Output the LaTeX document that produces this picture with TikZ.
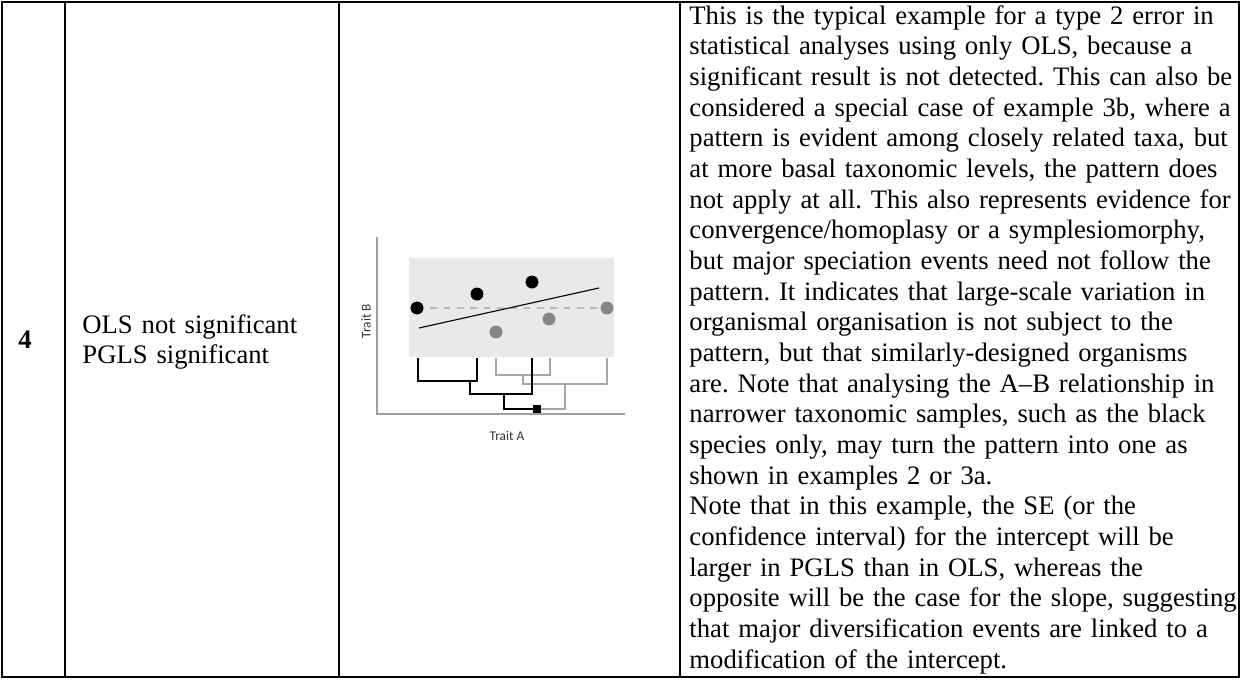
\documentclass[tikz,border=0pt]{standalone}
\usepackage{fontspec}
\setmainfont{Liberation Serif}
\newfontfamily\plotfont{Carlito}
\frenchspacing

\begin{document}
\begin{tikzpicture}[x=0.45pt, y=-0.45pt,
    rule/.style={line width=0.6pt},
    celltext/.style={font=\fontsize{12}{13.8}\selectfont, inner sep=0pt, align=left},
    axislabel/.style={font=\plotfont\fontsize{6}{7}\selectfont, text=black!80, inner sep=0pt},
    blackdot/.style={fill=black},
    graydot/.style={fill=gray!95},
    blackbranch/.style={line width=1pt, black},
    graybranch/.style={line width=1pt, gray!70}]
  \useasboundingbox (0,0) rectangle (1243,679);
  % Tabela
  \draw[rule] (2,2) rectangle (1239,677);
  \foreach \xc in {65,339,680}
    \draw[rule] (\xc,2) -- (\xc,677);
  % Primeira coluna
  \node[celltext, font=\fontsize{12}{13.8}\selectfont\bfseries, anchor=base west] (num) at (18,348) {4};
  \node[celltext, text width=120pt, anchor=base west] (name) at (82,333) {OLS not significant\\PGLS significant};
  % Eixos
  \coordinate (ytop) at (377,237);
  \coordinate (orig) at (377,414);
  \coordinate (xend) at (625,414);
  \draw[gray!75, line width=0.6pt] (ytop) -- (orig) -- (xend);
  \node[axislabel, rotate=90] (traitb) at (366,321) {Trait B};
  \node[axislabel] (traita) at (507,436) {Trait A};
  % Faixa cinza
  \fill[gray!17] (409,258) rectangle (614,357);
  \draw[gray!55, dashed, line width=0.6pt] (417,308) -- (607,308);
  % Reta OLS
  \draw[line width=0.5pt] (419,328) -- (599,288);
  % Pontos
  \fill[blackdot] (417,308) circle[radius=2.9pt];
  \fill[blackdot] (477,294) circle[radius=2.9pt];
  \fill[blackdot] (532,282) circle[radius=2.9pt];
  \fill[graydot] (496,332) circle[radius=2.9pt];
  \fill[graydot] (549,319) circle[radius=2.9pt];
  \fill[graydot] (607,308) circle[radius=2.9pt];
  % Arvore: pontas
  \coordinate (b1) at (418,358);
  \coordinate (b2) at (477,358);
  \coordinate (b3) at (532,358);
  \coordinate (g1) at (496,358);
  \coordinate (g2) at (550,358);
  \coordinate (g3) at (607,358);
  \coordinate (root) at (537,409);
  % Ramos cinza
  \draw[graybranch] (g1) -- (496,375) -- (550,375) -- (g2);
  \draw[graybranch] (523,375) -- (523,384) -- (607,384) -- (g3);
  \draw[graybranch] (565,384) -- (565,409) -- (root);
  % Ramos pretos
  \draw[blackbranch] (b1) -- (418,381) -- (477,381) -- (b2);
  \draw[blackbranch] (470,381) -- (470,394) -- (532,394) -- (b3);
  \draw[blackbranch] (504,394) -- (504,409) -- (root);
  \node[fill=black, minimum size=3.2pt, inner sep=0pt] (rootbox) at (root) {};
  % Texto
  \node[celltext, text width=252pt, anchor=base west] (desc) at (689,24) {This is the typical example for a type 2 error in\\
statistical analyses using only OLS, because a\\
significant result is not detected. This can also be\\
considered a special case of example 3b, where a\\
pattern is evident among closely related taxa, but\\
at more basal taxonomic levels, the pattern does\\
not apply at all. This also represents evidence for\\
convergence/homoplasy or a symplesiomorphy,\\
but major speciation events need not follow the\\
pattern. It indicates that large-scale variation in\\
organismal organisation is not subject to the\\
pattern, but that similarly-designed organisms\\
are. Note that analysing the A--B relationship in\\
narrower taxonomic samples, such as the black\\
species only, may turn the pattern into one as\\
shown in examples 2 or 3a.\\
Note that in this example, the SE (or the\\
confidence interval) for the intercept will be\\
larger in PGLS than in OLS, whereas the\\
opposite will be the case for the slope, suggesting\\
that major diversification events are linked to a\\
modification of the intercept.};
\end{tikzpicture}
\end{document}
